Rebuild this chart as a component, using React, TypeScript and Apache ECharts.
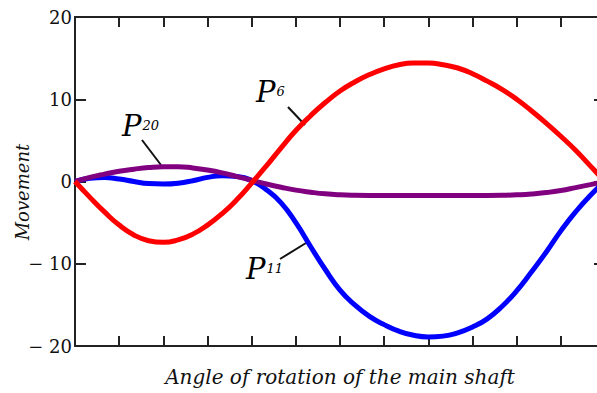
import React, { useEffect, useRef } from "react";
import * as echarts from "echarts";

const angles = [0, 10, 20, 30, 40, 50, 60, 70, 80, 90, 100, 110, 120, 130, 140, 150, 160, 170, 180, 190, 200, 210, 220, 230, 240, 250, 260, 270, 280, 290, 300, 310, 320, 330, 340, 350, 360];
const p6 = [0, -1.9, -3.7, -5.3, -6.5, -7.2, -7.4, -7.1, -6.4, -5.3, -3.9, -2.2, -0.2, 1.9, 4.1, 6.2, 8.0, 9.6, 11.0, 12.1, 13.0, 13.7, 14.2, 14.4, 14.4, 14.2, 13.8, 13.1, 12.2, 11.2, 10.0, 8.6, 7.1, 5.5, 3.8, 1.9, 0];
const p11 = [0, 0.4, 0.5, 0.3, 0.0, -0.25, -0.3, -0.2, 0.1, 0.5, 0.7, 0.6, 0.1, -1.0, -2.6, -5.0, -7.9, -10.7, -13.2, -15.0, -16.4, -17.4, -18.2, -18.7, -18.9, -18.8, -18.4, -17.7, -16.7, -15.2, -13.3, -11.0, -8.6, -6.0, -3.7, -1.7, 0];
const p20 = [0, 0.5, 0.9, 1.25, 1.5, 1.7, 1.8, 1.8, 1.65, 1.4, 1.05, 0.6, 0.15, -0.3, -0.7, -1.05, -1.3, -1.5, -1.62, -1.68, -1.7, -1.7, -1.7, -1.7, -1.7, -1.7, -1.7, -1.7, -1.7, -1.68, -1.62, -1.52, -1.35, -1.1, -0.75, -0.38, 0];
const yTicks = { min: -20, max: 20, interval: 10 };
const xTicks = { min: 0, max: 360, interval: 30 };
const xTitle = "Angle of rotation of the main shaft";
const yTitle = "Movement";

const serif = "DejaVu Serif";

export default function App() {
  const ref = useRef<HTMLDivElement>(null);
  useEffect(() => {
    if (!ref.current) return;
    const chart = echarts.init(ref.current, null, { renderer: "svg" });
    const pairs = (vals: number[]) => angles.map((a, i) => [a, vals[i]]);
    const axisLine = { show: true, onZero: false, lineStyle: { color: "#222", width: 2 } };
    const tick = { show: true, inside: true, length: 10, lineStyle: { color: "#222", width: 2 } };
    const lbl = (sub: string) => `{p|P}{s|${sub}}`;
    const rich = {
      p: { fontFamily: serif, fontStyle: "italic", fontSize: 29, color: "#111" },
      s: { fontFamily: serif, fontStyle: "italic", fontSize: 13, color: "#111", padding: [0, 0, 1, 1] },
    };
    chart.setOption({
      animation: false,
      backgroundColor: "#fff",
      textStyle: { fontFamily: serif },
      grid: { left: 75, top: 17, right: -8, bottom: 47, outerBoundsMode: "none", containLabel: false },
      xAxis: [
        {
          type: "value", ...xTicks, position: "bottom",
          axisLine, axisTick: tick, axisLabel: { show: false }, splitLine: { show: false },
          name: xTitle, nameLocation: "middle", nameGap: 21,
          nameTextStyle: { fontFamily: serif, fontStyle: "italic", fontSize: 20, color: "#111" },
        },
        {
          type: "value", ...xTicks, position: "top",
          axisLine, axisTick: tick, axisLabel: { show: false }, splitLine: { show: false },
        },
      ],
      yAxis: [
        {
          type: "value", ...yTicks, position: "left",
          axisLine, axisTick: { ...tick, length: 11 }, splitLine: { show: false },
          axisLabel: {
            margin: 3, fontFamily: serif, fontSize: 18, color: "#111", padding: [6, 0, 0, 0],
            formatter: (v: number) => (v < 0 ? "\u2212 " + -v : String(v)),
          },
        },
        {
          type: "value", ...yTicks, position: "right",
          axisLine, axisTick: { ...tick, length: 11 }, axisLabel: { show: false }, splitLine: { show: false },
        },
      ],
      series: [
        { name: "P11", type: "line", data: pairs(p11), smooth: 0.5, showSymbol: false, lineStyle: { color: "#0000ff", width: 5 } },
        { name: "P20", type: "line", data: pairs(p20), smooth: 0.5, showSymbol: false, lineStyle: { color: "#800080", width: 5 } },
        { name: "P6", type: "line", data: pairs(p6), smooth: 0.5, showSymbol: false, lineStyle: { color: "#ff0000", width: 5 } },
      ],
      graphic: [
        {
          type: "text", x: 22, y: 192, rotation: Math.PI / 2,
          style: { text: yTitle, fontFamily: serif, fontStyle: "italic", fontSize: 18, fill: "#111", align: "center", verticalAlign: "middle" },
        },
        { type: "line", shape: { x1: 288, y1: 107, x2: 305, y2: 125 }, style: { stroke: "#111", lineWidth: 2 } },
        { type: "line", shape: { x1: 142, y1: 140, x2: 161, y2: 165 }, style: { stroke: "#111", lineWidth: 2 } },
        { type: "line", shape: { x1: 280, y1: 259, x2: 306, y2: 243 }, style: { stroke: "#111", lineWidth: 2 } },
        { type: "text", x: 256, y: 106, style: { text: lbl("6"), rich, textVerticalAlign: "bottom" } },
        { type: "text", x: 122, y: 140, style: { text: lbl("20"), rich, textVerticalAlign: "bottom" } },
        { type: "text", x: 246, y: 283, style: { text: lbl("11"), rich, textVerticalAlign: "bottom" } },
      ],
    });
    return () => chart.dispose();
  }, []);
  return <div ref={ref} style={{ width: 597, height: 393, position: "absolute", left: 0, top: 0 }} />;
}
